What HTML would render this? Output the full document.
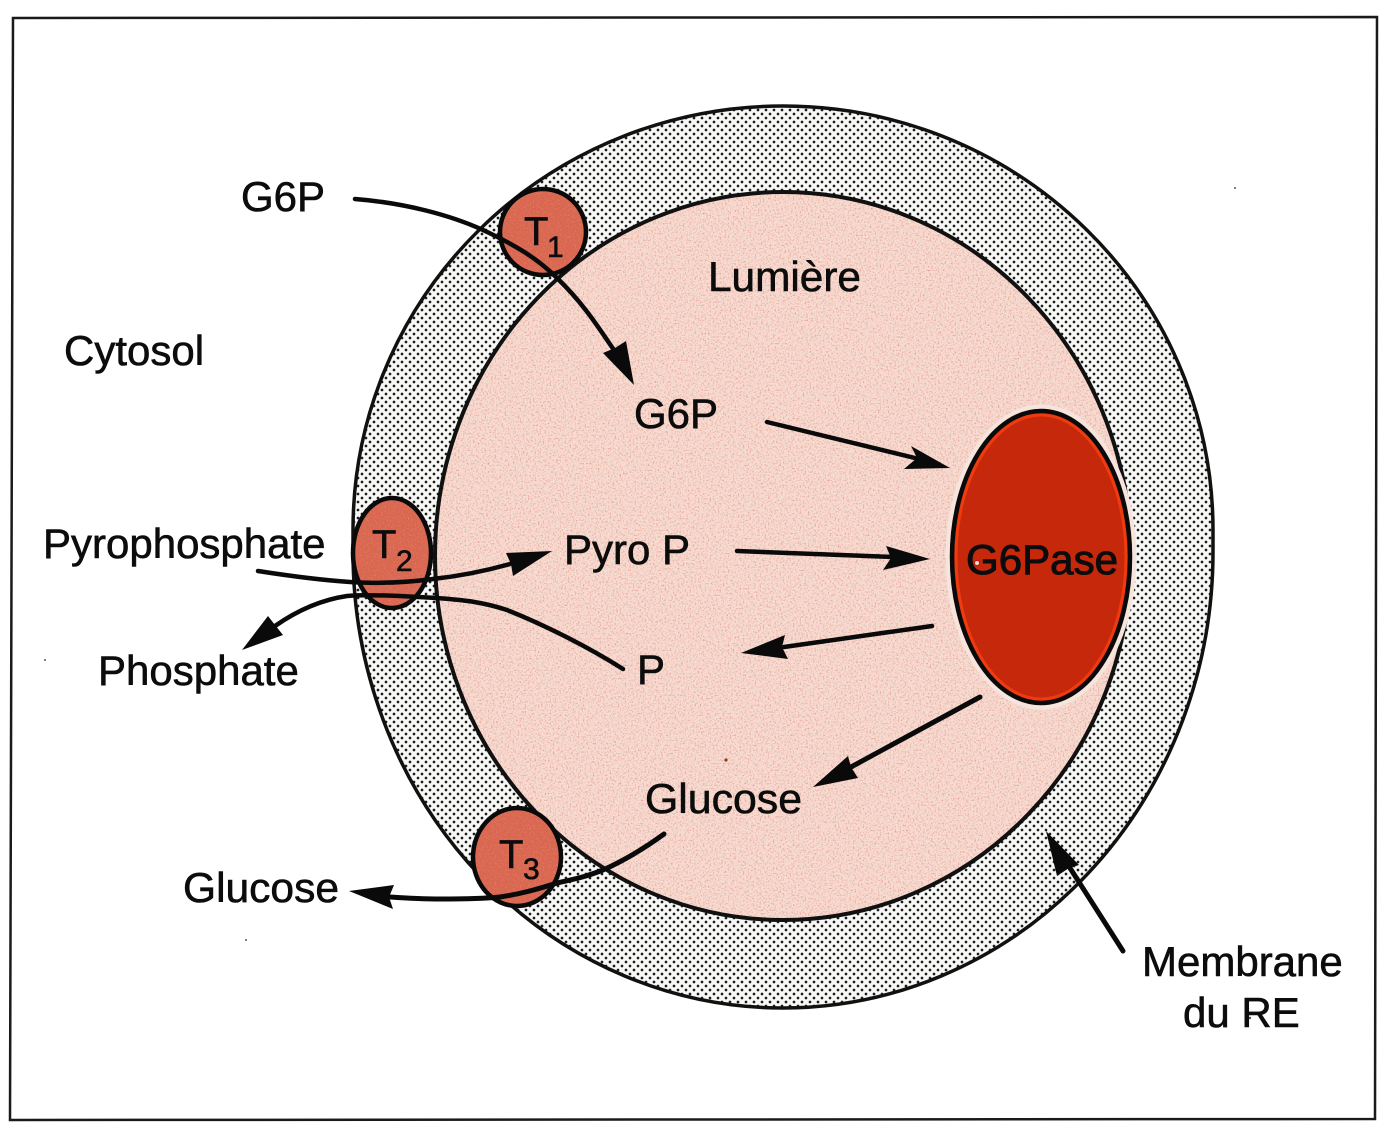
<!DOCTYPE html>
<html><head><meta charset="utf-8"><style>
html,body{margin:0;padding:0;background:#fff}
svg{display:block}
text{font-family:"Liberation Sans",sans-serif;fill:#0c0c0c;stroke:#0c0c0c;stroke-width:.6;font-size:42px}
.t{font-size:40px}
.s{font-size:30px}
</style></head><body>
<svg width="1385" height="1136" viewBox="0 0 1385 1136" xmlns="http://www.w3.org/2000/svg">
<defs>
<pattern id="dots" width="8" height="8" patternUnits="userSpaceOnUse">
<rect width="8" height="8" fill="#f7f8f5"/>
<circle cx="2" cy="2" r="1.35" fill="#1c1c1c"/>
<circle cx="6" cy="6" r="1.35" fill="#1c1c1c"/>
</pattern>
<filter id="n" x="0" y="0" width="100%" height="100%">
<feTurbulence type="fractalNoise" baseFrequency="0.6" numOctaves="2" seed="4" result="t"/>
<feColorMatrix in="t" type="matrix" values="0 0 0 0 .75  0 0 0 0 .22  0 0 0 0 .16  2.2 0 0 0 -1.05" result="c"/>
<feComposite in="c" in2="SourceGraphic" operator="in" result="k"/>
<feMerge><feMergeNode in="SourceGraphic"/><feMergeNode in="k"/></feMerge>
</filter>
</defs>
<rect width="1385" height="1136" fill="#fff"/>
<path d="M13 18L1377 17L1375 1119L10 1120Z" fill="#fff" stroke="#1a1a1a" stroke-width="2.5"/>

<path d="M353 530A430 424 0 0 1 1213 530L1213 552A430 456 0 0 1 353 552Z" fill="url(#dots)" stroke="#111" stroke-width="3.5"/>
<ellipse cx="783" cy="556" rx="348" ry="364" fill="#f7dcd2" filter="url(#n)"/>
<ellipse cx="783" cy="556" rx="348" ry="364" fill="none" stroke="#111" stroke-width="4"/>

<ellipse cx="1041" cy="557" rx="93" ry="150" fill="none" stroke="#f6e4dd" stroke-width="5"/>
<ellipse cx="1041" cy="557" rx="89" ry="146" fill="#c6280c"/>
<ellipse cx="1041" cy="557" rx="85" ry="142" fill="none" stroke="#f03a10" stroke-width="3"/>
<ellipse cx="1041" cy="557" rx="89" ry="146" fill="none" stroke="#0a0a0a" stroke-width="4.5"/>

<ellipse cx="543" cy="232" rx="43" ry="43" fill="#d9664f" filter="url(#n)"/>
<ellipse cx="543" cy="232" rx="43" ry="43" fill="none" stroke="#0a0a0a" stroke-width="4.5"/>
<ellipse cx="392" cy="553" rx="39" ry="55" fill="#d9664f" filter="url(#n)"/>
<ellipse cx="392" cy="553" rx="39" ry="55" fill="none" stroke="#0a0a0a" stroke-width="4.5"/>
<ellipse cx="517" cy="857" rx="44" ry="49" fill="#d9664f" filter="url(#n)"/>
<ellipse cx="517" cy="857" rx="44" ry="49" fill="none" stroke="#0a0a0a" stroke-width="4.5"/>

<g fill="none" stroke="#0a0a0a" stroke-width="4.5" stroke-linecap="round">
<path d="M355 199C405 203 450 215 483 230C515 245 537 258 557 278C585 305 600 330 614 350"/>
<path d="M767 422L915 458"/>
<path d="M737 551L892 557"/>
<path d="M932 626L784 647"/>
<path d="M980 697L851 767" stroke-width="5"/>
<path d="M258 571C290 576 320 580 350 582C380 584 410 582 433 579C460 576 485 571 510 564"/>
<path d="M623 669C590 648 545 625 507 610C480 601 460 600 437 598L400 596C375 595 360 595 347 596C320 600 295 612 275 626"/>
<path d="M664 834C645 848 625 860 603 870C585 877 575 879 557 883C535 890 520 894 500 897C480 899 460 899 440 899C420 899 405 898 390 897" stroke-width="5"/>
<path d="M1123 951L1070 868" stroke-width="5"/>
</g>
<g fill="#0a0a0a">
<polygon points="634,385 626,341 615,348 603,353"/>
<polygon points="950,468 911,446 917,458 904,469"/>
<polygon points="930,559 886,546 891,558 883,570"/>
<polygon points="741,653 785,635 782,647 788,659"/>
<polygon points="813,787 848,756 851,767 858,778"/>
<polygon points="1046,831 1079,865 1069,868 1057,876"/>
<polygon points="552,551 506,553 511,564 513,576"/>
<polygon points="242,650 268,616 275,625 283,635"/>
<polygon points="349,891 394,885 389,897 393,909"/>
</g>

<text x="241" y="211">G6P</text>
<text x="708" y="291" textLength="153" lengthAdjust="spacingAndGlyphs">Lumière</text>
<text x="64" y="365">Cytosol</text>
<text x="634" y="428">G6P</text>
<text x="43" y="558">Pyrophosphate</text>
<text x="564" y="564">Pyro P</text>
<text x="966" y="574" textLength="152" lengthAdjust="spacingAndGlyphs" style="stroke-width:1">G6Pase</text>
<text x="98" y="685">Phosphate</text>
<text x="637" y="684">P</text>
<text x="645" y="813" textLength="157" lengthAdjust="spacingAndGlyphs">Glucose</text>
<text x="183" y="902" textLength="156" lengthAdjust="spacingAndGlyphs">Glucose</text>
<text x="1142" y="976">Membrane</text>
<text x="1183" y="1027">du RE</text>

<text class="t" x="524" y="245">T</text><text class="s" x="547" y="257">1</text>
<text class="t" x="372" y="558">T</text><text class="s" x="396" y="571">2</text>
<text class="t" x="499" y="868">T</text><text class="s" x="523" y="879">3</text>

<circle cx="977" cy="563" r="2.5" fill="#f6d8d0" stroke="#b3200a" stroke-width="1"/>
<g fill="#555">
<circle cx="1235" cy="188" r="1"/>
<circle cx="45" cy="660" r="1"/>
<circle cx="246" cy="940" r="1"/>
<circle cx="1250" cy="1018" r="1.2"/>
</g>
<circle cx="726" cy="760" r="1.6" fill="#8a3a1a"/>
</svg>
</body></html>
